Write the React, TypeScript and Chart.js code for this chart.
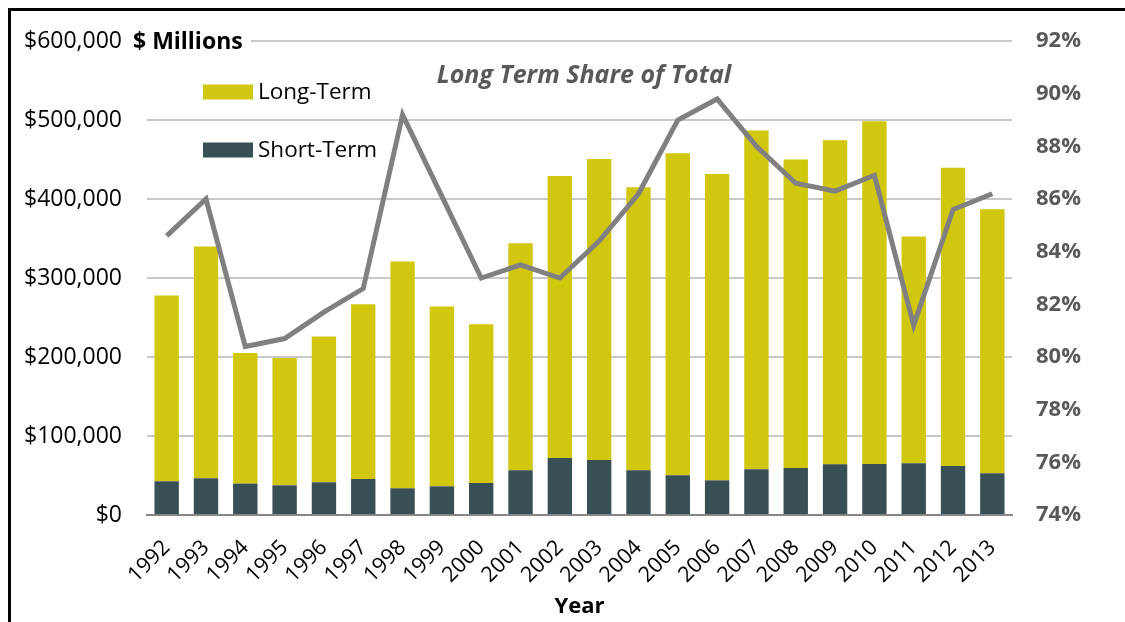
import React, { useEffect, useRef } from "react";
import { Chart, registerables } from "chart.js";

Chart.register(...registerables);

const years = ["1992", "1993", "1994", "1995", "1996", "1997", "1998", "1999", "2000", "2001", "2002", "2003", "2004", "2005", "2006", "2007", "2008", "2009", "2010", "2011", "2012", "2013"];

// $ Millions
const shortTerm = [42700, 46500, 39700, 37600, 41400, 45600, 33800, 36300, 40500, 56600, 72200, 69600, 56600, 50300, 43900, 57800, 59500, 64200, 64600, 65400, 62000, 52800];
const longTerm = [235300, 293500, 165300, 161100, 184600, 221100, 287000, 227700, 200900, 287400, 356800, 381000, 358200, 407500, 387700, 428800, 390400, 410100, 433800, 287000, 377700, 334200];

// Long term share of total, %
const longTermShare = [84.6, 86.0, 80.4, 80.7, 81.7, 82.6, 89.2, 86.1, 83.0, 83.5, 83.0, 84.4, 86.2, 89.0, 89.8, 88.0, 86.6, 86.3, 86.9, 81.2, 85.6, 86.2];

const leftAxis = { min: 0, max: 600000, step: 100000 };
const rightAxis = { min: 74, max: 92, step: 2 };

const YELLOW = "#D2C70F";
const SLATE = "#384F55";
const LINE_GRAY = "#808080";
const TEXT_GRAY = "#595959";
const FONT = "'Open Sans', sans-serif";

const overlayPlugin = {
  id: "overlay",
  afterDraw(chart: any) {
    const ctx = chart.ctx;
    const area = chart.chartArea;
    ctx.save();
    // "$ Millions" label over the top gridline
    ctx.fillStyle = "#ffffff";
    ctx.fillRect(area.left - 14, area.top - 12, 118, 24);
    ctx.fillStyle = "#000000";
    ctx.font = `bold 23px ${FONT}`;
    ctx.textBaseline = "middle";
    ctx.textAlign = "left";
    ctx.fillText("$ Millions", area.left - 14, area.top + 1);

    // Series title
    ctx.fillStyle = TEXT_GRAY;
    ctx.font = `italic bold 25px ${FONT}`;
    ctx.textAlign = "center";
    ctx.fillText("Long Term Share of Total", 573, 65);

    // Legend (bars only)
    const items = [
      { ds: chart.data.datasets[1], y: 81 },
      { ds: chart.data.datasets[0], y: 139 },
    ];
    ctx.font = `22.5px ${FONT}`;
    ctx.textAlign = "left";
    items.forEach((it) => {
      ctx.fillStyle = it.ds.backgroundColor;
      ctx.fillRect(192, it.y - 7.5, 50, 15);
      ctx.fillStyle = "#000000";
      ctx.fillText(it.ds.label, 247, it.y + 1);
    });
    ctx.restore();
  },
};

export default function App() {
  const canvasRef = useRef<HTMLCanvasElement | null>(null);

  useEffect(() => {
    if (!canvasRef.current) return;
    const chart = new Chart(canvasRef.current, {
      type: "bar",
      data: {
        labels: years,
        datasets: [
          {
            type: "bar",
            label: "Short-Term",
            data: shortTerm,
            backgroundColor: SLATE,
            stack: "s",
            yAxisID: "y",
            order: 1,
            barPercentage: 0.62,
            categoryPercentage: 1,
          },
          {
            type: "bar",
            label: "Long-Term",
            data: longTerm,
            backgroundColor: YELLOW,
            stack: "s",
            yAxisID: "y",
            order: 1,
            barPercentage: 0.62,
            categoryPercentage: 1,
          },
          {
            type: "line",
            label: "Long Term Share of Total",
            data: longTermShare,
            borderColor: LINE_GRAY,
            backgroundColor: LINE_GRAY,
            borderWidth: 5,
            pointRadius: 0,
            tension: 0,
            yAxisID: "y1",
            order: 0,
          } as any,
        ],
      },
      options: {
        responsive: false,
        animation: false,
        devicePixelRatio: 1,
        layout: { padding: { top: 30, left: 0, right: 0, bottom: 0 } },
        plugins: {
          legend: { display: false },
          tooltip: { enabled: false },
          title: { display: false },
        },
        scales: {
          x: {
            stacked: true,
            offset: true,
            grid: { display: false, drawTicks: false },
            border: { display: true, color: "#868686", width: 2 },
            ticks: {
              color: "#000000",
              font: { family: FONT, size: 21.5 },
              minRotation: 45,
              maxRotation: 45,
              padding: 20,
              autoSkip: false,
            },
            title: {
              display: true,
              text: "Year",
              color: "#000000",
              font: { family: FONT, size: 22, weight: "bold" },
              padding: { top: 0, bottom: 2 },
            },
            afterFit: (s: any) => {
              s.height = 107;
            },
          },
          y: {
            position: "left",
            stacked: true,
            min: leftAxis.min,
            max: leftAxis.max,
            grid: { color: "#C8C8C8", lineWidth: 2, drawTicks: false },
            border: { display: false },
            ticks: {
              stepSize: leftAxis.step,
              color: "#000000",
              font: { family: FONT, size: 23 },
              padding: 25,
              callback: (v: any) => "$" + Number(v).toLocaleString("en-US"),
            },
            afterFit: (s: any) => {
              s.width = 136;
              s.paddingTop = 0;
              s.paddingBottom = 0;
            },
          },
          y1: {
            position: "right",
            min: rightAxis.min,
            max: rightAxis.max,
            grid: { drawOnChartArea: false, drawTicks: false },
            border: { display: false },
            ticks: {
              stepSize: rightAxis.step,
              color: TEXT_GRAY,
              font: { family: FONT, size: 22, weight: "bold" },
              padding: 24,
              callback: (v: any) => v + "%",
            },
            afterFit: (s: any) => {
              s.width = 113;
              s.paddingTop = 0;
              s.paddingBottom = 0;
            },
          },
        },
      },
      plugins: [overlayPlugin],
    });
    return () => chart.destroy();
  }, []);

  return (
    <div
      style={{
        position: "fixed",
        left: 8,
        top: 8,
        width: 1117,
        height: 614,
        borderTop: "3px solid #000",
        borderLeft: "3px solid #000",
        boxSizing: "border-box",
        overflow: "hidden",
        background: "#fff",
      }}
    >
      <canvas ref={canvasRef} width={1114} height={611} style={{ display: "block" }} />
    </div>
  );
}
